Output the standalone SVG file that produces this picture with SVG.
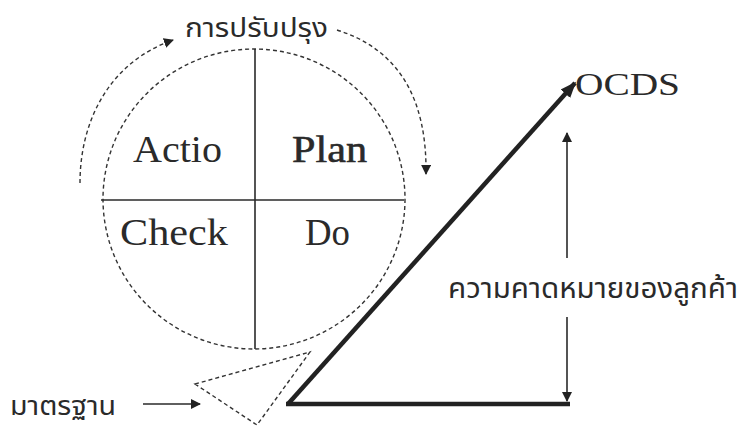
<svg xmlns="http://www.w3.org/2000/svg" width="742" height="427" viewBox="0 0 742 427">
<style>
.lbl{font-family:"Liberation Serif","DejaVu Serif",serif;fill:#2a2a2a}
.th{font-family:"Noto Sans Thai","DejaVu Sans","Liberation Sans",sans-serif;fill:#2a2a2a}
.dash{fill:none;stroke:#333;stroke-width:1.4;stroke-dasharray:4 3}
.thin{fill:none;stroke:#2a2a2a;stroke-width:1.6}
.thick{fill:none;stroke:#222;stroke-width:4.5}
</style>
<defs>
<marker id="ah" viewBox="0 0 10 10" refX="9" refY="5" markerWidth="10" markerHeight="10" markerUnits="userSpaceOnUse" orient="auto"><path d="M0,0 L10,5 L0,10 z" fill="#222"/></marker>
<marker id="ahb" viewBox="0 0 10 10" refX="9" refY="5" markerWidth="16" markerHeight="16" markerUnits="userSpaceOnUse" orient="auto"><path d="M0,1 L10,5 L0,9 z" fill="#222"/></marker>
</defs>
<rect width="742" height="427" fill="#fff"/>
<g id="pdca">
<ellipse cx="254" cy="199" rx="151" ry="150" class="dash" stroke-width="1.2" stroke-dasharray="3 2"/>
<line x1="255" y1="49" x2="255" y2="349" class="thin"/>
<line x1="101" y1="200" x2="404" y2="200" class="thin"/>
<text x="133" y="162" class="lbl" font-size="38" textLength="89" lengthAdjust="spacingAndGlyphs">Actio</text>
<text x="292" y="162" class="lbl" font-size="38" textLength="75" lengthAdjust="spacingAndGlyphs" stroke="#2a2a2a" stroke-width="0.6">Plan</text>
<text x="120" y="245" class="lbl" font-size="38" textLength="108" lengthAdjust="spacingAndGlyphs">Check</text>
<text x="305" y="245" class="lbl" font-size="38" textLength="45" lengthAdjust="spacingAndGlyphs">Do</text>
</g>
<g id="improve">
<text x="185" y="37" class="th" font-size="27" textLength="143" lengthAdjust="spacingAndGlyphs">การปรับปรุง</text>
</g>
<g id="ocds">
<text x="575" y="95" class="lbl" font-size="32" textLength="105" lengthAdjust="spacingAndGlyphs">OCDS</text>
</g>
<g id="expect">
<text x="448" y="298" class="th" font-size="28" textLength="290" lengthAdjust="spacingAndGlyphs">ความคาดหมายของลูกค้า</text>
</g>
<g id="standard">
<text x="10" y="415" class="th" font-size="27" textLength="106" lengthAdjust="spacingAndGlyphs">มาตรฐาน</text>
<polygon points="195,384 310,352 257,425" class="dash" stroke-dasharray="3 2"/>
</g>
<g id="connectors">
<path d="M80,183 C80,120 110,62 173,40" class="dash" marker-end="url(#ah)"/>
<path d="M337,30 C400,50 427,100 426,174" class="dash" marker-end="url(#ah)"/>
<path d="M288,404 L575,83" class="thick" marker-end="url(#ahb)"/>
<path d="M286,404 L570,404" class="thick"/>
<line x1="567" y1="258" x2="567" y2="133" class="thin" marker-end="url(#ah)"/>
<line x1="567" y1="317" x2="567" y2="401" class="thin" marker-end="url(#ah)"/>
<line x1="143" y1="404" x2="200" y2="404" class="thin" marker-end="url(#ah)"/>
</g>
</svg>
